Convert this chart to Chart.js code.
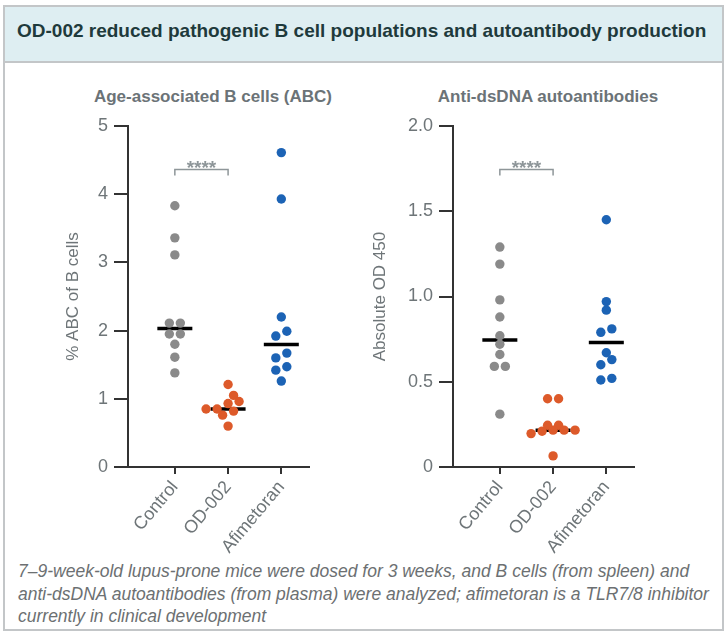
<!DOCTYPE html>
<html><head><meta charset="utf-8">
<script src="https://cdn.jsdelivr.net/npm/chart.js@4"></script>
<style>
html,body{margin:0;padding:0;background:#fff;}
body{width:727px;height:636px;position:relative;overflow:hidden;font-family:"Liberation Sans",Arial,sans-serif;}
#frame{position:absolute;left:3px;top:5px;width:717px;height:622px;border:2px solid #c3c6c8;}
#band{position:absolute;left:0;top:0;right:0;height:54px;background:#deeef2;border-bottom:2px solid #c3c6c8;}
#title{position:absolute;left:17px;top:20px;font-weight:bold;font-size:19px;line-height:22px;color:#1e3a3c;white-space:nowrap;}
.sub{position:absolute;top:86px;font-weight:bold;font-size:17px;line-height:22px;color:#6b7377;transform:translateX(-50%);white-space:nowrap;}
#cap{position:absolute;left:18px;top:560px;font-style:italic;font-size:17.5px;line-height:22.5px;color:#6c7072;white-space:nowrap;}
canvas{position:absolute;top:70px;}
#c1{left:10px;} #c2{left:335px;}
</style>
</head><body>
<div id="frame"><div id="band"></div></div>
<div id="title">OD-002 reduced pathogenic B cell populations and autoantibody production</div>
<div class="sub" style="left:213px">Age-associated B cells (ABC)</div>
<div class="sub" style="left:548px">Anti-dsDNA autoantibodies</div>
<canvas id="c1" width="320" height="490"></canvas>
<canvas id="c2" width="320" height="490"></canvas>
<div id="cap">7–9-week-old lupus-prone mice were dosed for 3 weeks, and B cells (from spleen) and<br>anti-dsDNA autoantibodies (from plasma) were analyzed; afimetoran is a TLR7/8 inhibitor<br>currently in clinical development</div>
<script>
// ---- data ----
const categories = ['Control', 'OD-002', 'Afimetoran'];
const abcControl    = [3.83, 3.36, 3.11, 2.11, 2.11, 1.95, 1.95, 1.80, 1.61, 1.38];
const abcOD002      = [1.21, 1.05, 0.96, 0.93, 0.85, 0.85, 0.82, 0.76, 0.60];
const abcAfimetoran = [4.61, 3.93, 2.20, 1.99, 1.92, 1.67, 1.60, 1.47, 1.42, 1.26];
const dsControl     = [1.29, 1.19, 0.98, 0.88, 0.77, 0.72, 0.66, 0.59, 0.59, 0.31];
const dsOD002       = [0.40, 0.40, 0.245, 0.245, 0.216, 0.216, 0.216, 0.21, 0.196, 0.065];
const dsAfimetoran  = [1.45, 0.97, 0.92, 0.81, 0.79, 0.67, 0.63, 0.60, 0.52, 0.51];
const abcTicks = [0, 1, 2, 3, 4, 5];
const dsTicks  = [0, 0.5, 1.0, 1.5, 2.0];
const significance = '****';

// ---- helpers ----
function median(a) {
  const s = [...a].sort((p, q) => p - q), n = s.length;
  return n % 2 ? s[(n - 1) / 2] : (s[n / 2 - 1] + s[n / 2]) / 2;
}
function swarm(values, pxY, r, sp, thr) {
  const idx = values.map((v, i) => i).sort((a, b) => values[a] - values[b]);
  const rows = [];
  for (const i of idx) {
    const yy = values[i] * pxY;
    const last = rows[rows.length - 1];
    if (last && yy - last.y0 < r * 1.2) last.items.push(i); else rows.push({ y0: yy, items: [i] });
  }
  const placed = [], off = new Array(values.length).fill(0);
  const shifts = [0, sp / 2, -sp / 2, sp, -sp, 1.5 * sp, -1.5 * sp];
  for (const row of rows) {
    const n = row.items.length;
    const base = row.items.map((_, k) => (k - (n - 1) / 2) * sp);
    let best = 0, bestD = -1;
    for (const s of shifts) {
      let dmin = Infinity;
      row.items.forEach((i, k) => placed.forEach(p => {
        dmin = Math.min(dmin, Math.hypot(p.x - (base[k] + s), p.y - values[i] * pxY));
      }));
      if (dmin >= thr) { best = s; bestD = dmin; break; }
      if (dmin > bestD) { bestD = dmin; best = s; }
    }
    row.items.forEach((i, k) => { off[i] = base[k] + best; placed.push({ x: off[i], y: values[i] * pxY }); });
  }
  return off;
}

const dotColors = ['#8a8a8a', '#dd5a2a', '#1c63b5'];
const textGray = '#6e7578';
const axisColor = '#333333';

const sigPlugin = {
  id: 'sig',
  afterDatasetsDraw(chart, args, o) {
    const { ctx, scales: { x, y } } = chart;
    const x1 = x.getPixelForValue(o.from), x2 = x.getPixelForValue(o.to), yy = Math.round(y.getPixelForValue(o.level)) + 0.5;
    ctx.save();
    ctx.strokeStyle = '#8e9699'; ctx.lineWidth = 1.5;
    ctx.beginPath(); ctx.moveTo(x1, yy + 6); ctx.lineTo(x1, yy); ctx.lineTo(x2, yy); ctx.lineTo(x2, yy + 6); ctx.stroke();
    ctx.fillStyle = '#8e9699'; ctx.font = 'bold 19px "Liberation Sans", Arial, sans-serif';
    ctx.textAlign = 'center'; ctx.textBaseline = 'alphabetic';
    ctx.fillText(o.label, (x1 + x2) / 2, yy + 4);
    ctx.restore();
  }
};

function makeChart(id, groups, ticks, yMax, yTitle, titlePad, sigLevel, fmt) {
  const datasets = groups.map((vals, g) => ({
    data: vals.map(v => ({ x: g + 1, y: v })),
    backgroundColor: dotColors[g], borderWidth: 0,
    pointRadius: 4.7, pointHoverRadius: 4.7, order: 0
  }));
  datasets.push({
    data: groups.map((vals, g) => ({ x: g + 1, y: median(vals) })),
    pointStyle: 'line', pointRadius: 17.5, pointHoverRadius: 17.5,
    borderColor: '#000', borderWidth: 3.5, backgroundColor: '#000', order: 1
  });
  const chart = new Chart(document.getElementById(id), {
    type: 'scatter',
    data: { datasets },
    plugins: [sigPlugin],
    options: {
      responsive: false, animation: false, devicePixelRatio: 1, events: [],
      layout: { padding: { left: 0, right: 18, top: 56, bottom: 0 } },
      plugins: { legend: { display: false }, tooltip: { enabled: false },
        sig: { from: 1, to: 2, level: sigLevel, label: significance } },
      scales: {
        x: {
          type: 'linear', min: 0.12, max: 3.52,
          afterBuildTicks: s => { s.ticks = categories.map((c, i) => ({ value: i + 1 })); },
          afterFit: s => { s.height = 93; },
          ticks: { callback: v => categories[v - 1] ?? '', minRotation: 50, maxRotation: 50, autoSkip: false,
                   color: textGray, font: { size: 18, family: '"Liberation Sans", Arial, sans-serif' }, padding: 3 },
          grid: { display: true, drawOnChartArea: false, drawTicks: true, tickLength: 7, color: axisColor, lineWidth: 2 },
          border: { display: true, color: axisColor, width: 2 }
        },
        y: {
          type: 'linear', min: 0, max: yMax,
          afterBuildTicks: s => { s.ticks = ticks.map(v => ({ value: v })); },
          afterFit: s => { s.width = 118; },
          ticks: { callback: fmt, color: textGray, font: { size: 18, family: '"Liberation Sans", Arial, sans-serif' }, padding: 6 },
          grid: { display: true, drawOnChartArea: false, drawTicks: true, tickLength: 14, color: axisColor, lineWidth: 2 },
          border: { display: true, color: axisColor, width: 2 },
          title: { display: true, text: yTitle, color: textGray, font: { size: 17, family: '"Liberation Sans", Arial, sans-serif' },
                   padding: { top: titlePad, bottom: 0 } }
        }
      }
    }
  });
  // beeswarm jitter computed from the values, in pixel space
  const x = chart.scales.x, y = chart.scales.y;
  const pxY = y.getPixelForValue(0) - y.getPixelForValue(1);
  const pxX = x.getPixelForValue(2) - x.getPixelForValue(1);
  groups.forEach((vals, g) => {
    const offs = swarm(vals, pxY, 4.7, 11, 8.2);
    chart.data.datasets[g].data = vals.map((v, i) => ({ x: g + 1 + offs[i] / pxX, y: v }));
  });
  chart.update('none');
  return chart;
}

makeChart('c1', [abcControl, abcOD002, abcAfimetoran], abcTicks, 5, '% ABC of B cells', 53, 4.37, v => String(v));
makeChart('c2', [dsControl, dsOD002, dsAfimetoran], dsTicks, 2, 'Absolute OD 450', 35, 1.75, v => v === 0 ? '0' : v.toFixed(1));
</script>
</body></html>
